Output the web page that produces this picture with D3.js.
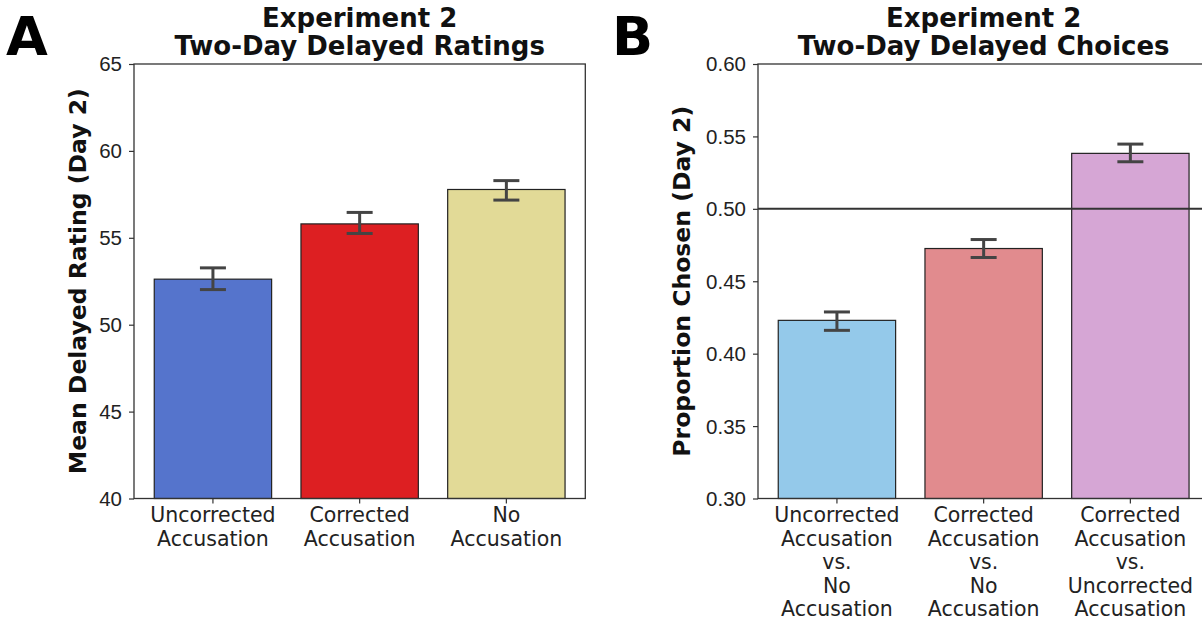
<!DOCTYPE html>
<html>
<head>
<meta charset="utf-8">
<script src="https://cdn.jsdelivr.net/npm/d3@7"></script>
<style>
  html, body { margin: 0; padding: 0; background: #fff; }
  svg { display: block; font-family: "DejaVu Sans", sans-serif; }
</style>
</head>
<body>
<svg id="chart" width="1202" height="623"></svg>
<script>
// Panel A data: mean delayed ratings (Day 2)
const ratingCats = [["Uncorrected", "Accusation"], ["Corrected", "Accusation"], ["No", "Accusation"]];
const ratingMeans = [52.62, 55.80, 57.78];
const ratingLow = [52.02, 55.25, 57.17];
const ratingHigh = [53.27, 56.46, 58.29];
const ratingColors = ["#5574cc", "#dd1f22", "#e2da97"];
const ratingTicks = [40, 45, 50, 55, 60, 65];

// Panel B data: proportion chosen (Day 2)
const choiceCats = [
  ["Uncorrected", "Accusation", "vs.", "No", "Accusation"],
  ["Corrected", "Accusation", "vs.", "No", "Accusation"],
  ["Corrected", "Accusation", "vs.", "Uncorrected", "Accusation"]
];
const choiceMeans = [0.423, 0.4726, 0.5383];
const choiceLow = [0.4161, 0.4664, 0.5325];
const choiceHigh = [0.4288, 0.4788, 0.5447];
const choiceColors = ["#94c9ea", "#e18b8e", "#d6a6d5"];
const choiceTicks = [0.30, 0.35, 0.40, 0.45, 0.50, 0.55, 0.60];
const chanceLevel = [0.5];

const svg = d3.select("#chart");
const top0 = 64, bottom0 = 498.5, axW = 451.3;

function panel(opts) {
  const g = svg.append("g");
  const x = d3.scaleLinear().domain([-0.538, 2.538]).range([opts.left, opts.left + axW]);
  const y = d3.scaleLinear().domain(opts.domain).range([bottom0, top0]);
  const bw = x(0.8) - x(0);

  // bars
  g.selectAll("rect.bar").data(opts.means).enter().append("rect")
    .attr("class", "bar")
    .attr("x", (d, i) => x(i) - bw / 2)
    .attr("y", d => y(d))
    .attr("width", bw)
    .attr("height", d => y(opts.domain[0]) - y(d))
    .attr("fill", (d, i) => opts.colors[i])
    .attr("stroke", "#222")
    .attr("stroke-width", 1.2);

  // reference line
  if (opts.hline) {
    g.selectAll("line.ref").data(opts.hline).enter().append("line")
      .attr("x1", opts.left).attr("x2", opts.left + axW)
      .attr("y1", d => y(d)).attr("y2", d => y(d))
      .attr("stroke", "#333").attr("stroke-width", 2);
  }

  // error bars
  const eb = g.selectAll("g.err").data(opts.means).enter().append("g").attr("class", "err")
    .attr("stroke", "#444").attr("stroke-width", 3);
  eb.append("line").attr("x1", (d, i) => x(i)).attr("x2", (d, i) => x(i))
    .attr("y1", (d, i) => y(opts.low[i])).attr("y2", (d, i) => y(opts.high[i]));
  eb.append("line").attr("x1", (d, i) => x(i) - 13).attr("x2", (d, i) => x(i) + 13)
    .attr("y1", (d, i) => y(opts.low[i])).attr("y2", (d, i) => y(opts.low[i]));
  eb.append("line").attr("x1", (d, i) => x(i) - 13).attr("x2", (d, i) => x(i) + 13)
    .attr("y1", (d, i) => y(opts.high[i])).attr("y2", (d, i) => y(opts.high[i]));

  // frame
  g.append("rect").attr("x", opts.left).attr("y", top0)
    .attr("width", axW).attr("height", bottom0 - top0)
    .attr("fill", "none").attr("stroke", "#333").attr("stroke-width", 1.3);

  // y axis
  const ya = g.append("g").attr("transform", `translate(${opts.left},0)`)
    .call(d3.axisLeft(y).tickValues(opts.ticks).tickFormat(opts.fmt).tickSize(5).tickPadding(7));
  ya.select(".domain").remove();
  ya.selectAll("line").attr("stroke", "#333").attr("stroke-width", 1.2);
  ya.selectAll("text").attr("fill", "#222").style("font-size", "20.5px").attr("dy", "0.34em");

  // x ticks + multi-line labels
  const xt = g.selectAll("g.xt").data(opts.cats).enter().append("g").attr("class", "xt")
    .attr("transform", (d, i) => `translate(${x(i)},${bottom0})`);
  xt.append("line").attr("y2", 5).attr("stroke", "#333").attr("stroke-width", 1.2);
  const t = xt.append("text").attr("text-anchor", "middle").attr("fill", "#222")
    .style("font-size", "20.5px");
  t.selectAll("tspan").data(d => d).enter().append("tspan")
    .attr("x", 0).attr("y", (d, j) => 23.5 + j * 23.6).text(d => d);

  // y label
  g.append("text")
    .attr("transform", `translate(${opts.left - opts.ylabelGap},${(top0 + bottom0) / 2}) rotate(-90)`)
    .attr("text-anchor", "middle").attr("font-weight", "bold").style("font-size", "23.5px")
    .attr("fill", "#111").text(opts.ylabel);

  // title
  const cx = opts.left + axW / 2;
  g.append("text").attr("x", cx).attr("y", 27).attr("text-anchor", "middle")
    .attr("font-weight", "bold").style("font-size", "26px").attr("fill", "#111").text("Experiment 2");
  g.append("text").attr("x", cx).attr("y", 55).attr("text-anchor", "middle")
    .attr("font-weight", "bold").style("font-size", "26px").attr("fill", "#111").text(opts.title);

  // panel letter
  g.append("text").attr("x", opts.letterX).attr("y", 55)
    .attr("font-weight", "bold").style("font-size", "54px").attr("fill", "#000").text(opts.letter);
}

panel({
  left: 134, domain: [40, 65], means: ratingMeans, low: ratingLow, high: ratingHigh,
  colors: ratingColors, ticks: ratingTicks, fmt: d3.format("d"), cats: ratingCats,
  ylabel: "Mean Delayed Rating (Day 2)", title: "Two-Day Delayed Ratings",
  letter: "A", letterX: 6, ylabelGap: 48
});

panel({
  left: 758, domain: [0.30, 0.60], means: choiceMeans, low: choiceLow, high: choiceHigh,
  colors: choiceColors, ticks: choiceTicks, fmt: d3.format(".2f"), cats: choiceCats,
  ylabel: "Proportion Chosen (Day 2)", title: "Two-Day Delayed Choices",
  letter: "B", letterX: 612, hline: chanceLevel, ylabelGap: 68
});
</script>
</body>
</html>
